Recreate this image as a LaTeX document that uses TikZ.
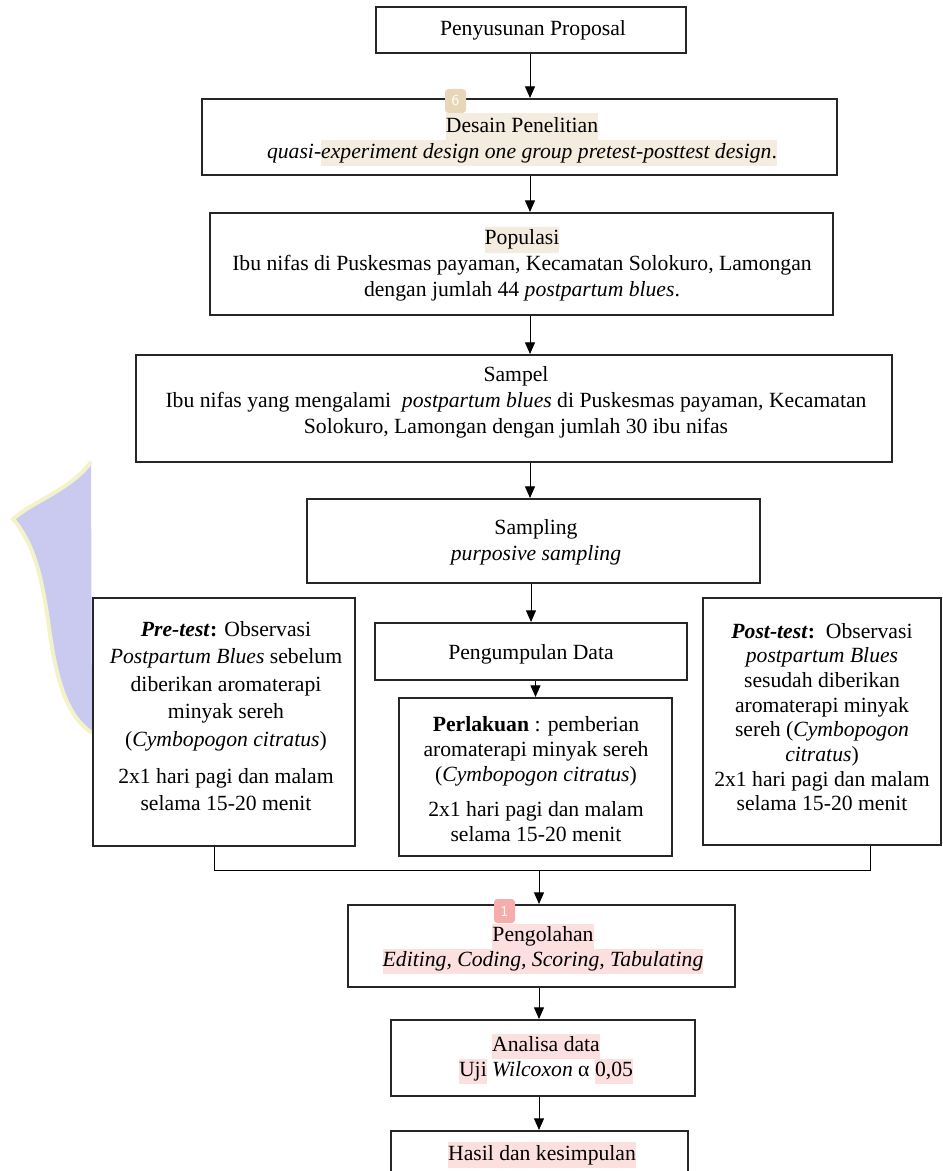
\documentclass[tikz,border=0pt]{standalone}
\usepackage{fontspec}
\setmainfont{Liberation Serif}
\usetikzlibrary{arrows.meta,fit}
\definecolor{hlbeige}{RGB}{244,236,222}
\definecolor{hlpink}{RGB}{252,224,224}
\definecolor{badgebeige}{RGB}{232,214,184}
\definecolor{badgepink}{RGB}{247,172,172}
\definecolor{shieldfill}{RGB}{202,202,240}
\definecolor{shieldedge}{RGB}{244,242,200}
\newcommand{\hlb}[1]{{\setlength{\fboxsep}{0pt}\colorbox{hlbeige}{\strut #1}}}
\newcommand{\hlp}[1]{{\setlength{\fboxsep}{0pt}\colorbox{hlpink}{\strut #1}}}
\tikzset{
  box/.style={draw=black!85, line width=1.2pt, inner sep=0pt},
  txt/.style={align=center, inner sep=0pt, font=\fontsize{13}{15.6}\selectfont},
  arr/.style={-{Triangle[length=7pt,width=6pt]}, line width=0.6pt},
  conn/.style={line width=0.6pt},
  badge/.style={rounded corners=2pt, text=white, minimum width=12.6pt, minimum height=14.4pt, inner sep=0pt, font=\sffamily\fontsize{9}{10}\selectfont}
}
\begin{document}
\begin{tikzpicture}[x=0.6pt,y=-0.6pt]
\useasboundingbox (0,0) rectangle (943,1171);
\clip (0,0) rectangle (943,1171);
% watermark shield
\fill[shieldfill] (91,462) .. controls (70,490) and (35,500) .. (13,519) .. controls (35,545) and (42,580) .. (48,620) .. controls (55,675) and (65,715) .. (92,733) -- cycle;
\draw[shieldedge, line width=2.4pt] (91,462) .. controls (70,490) and (35,500) .. (13,519) .. controls (35,545) and (42,580) .. (48,620) .. controls (55,675) and (65,715) .. (92,733);
\fill[white] (92,455) rectangle (100,740);

% boxes
\node[box, fit={(376,7) (686,53)}] (b1) {};
\node[box, fit={(202,99) (837,175)}] (b2) {};
\node[box, fit={(210,213) (833,315)}] (b3) {};
\node[box, fit={(136,355) (892,462)}] (b4) {};
\node[box, fit={(307,499) (760,583)}] (samp) {};
\node[box, fill=white, fit={(93,598) (355,846)}] (pre) {};
\node[box, fit={(375,623) (687,680)}] (peng) {};
\node[box, fit={(399,698) (672,856)}] (perl) {};
\node[box, fit={(703,598) (941,845)}] (post) {};
\node[box, fit={(348,905) (735,987)}] (olah) {};
\node[box, fit={(391,1020) (695,1096)}] (anal) {};
\node[box, fit={(391,1131) (688,1200)}] (hasil) {};

% texts
\node[txt] (t1) at (533,30) {Penyusunan Proposal};
\node[txt, font=\fontsize{13}{15.9}\selectfont] (t2) at (522,140) {\hlb{Desain Penelitian}\\\textit{quasi-}\hlb{\textit{experiment design one group pretest-posttest design}.}};
\node[txt] (t3) at (522,264) {\hlb{Populasi}\\Ibu nifas di Puskesmas payaman, Kecamatan Solokuro, Lamongan\\dengan jumlah 44 \textit{postpartum blues}.};
\node[txt] (t4) at (516,402) {Sampel\\Ibu nifas yang mengalami\ \ \textit{postpartum blues} di Puskesmas payaman, Kecamatan\\Solokuro, Lamongan dengan jumlah 30 ibu nifas};
\node[txt] (t5) at (536,542) {Sampling\\\textit{purposive sampling}};
\node[txt, font=\fontsize{13}{16.5}\selectfont] (tpre) at (226,716) {\textbf{\textit{Pre-test}:} Observasi\\\textit{Postpartum Blues} sebelum\\diberikan aromaterapi\\minyak sereh\\(\textit{Cymbopogon citratus})\\[5.5pt]2x1 hari pagi dan malam\\selama 15-20 menit};
\node[txt] (tpeng) at (531,654) {Pengumpulan Data};
\node[txt, font=\fontsize{13}{15}\selectfont] (tperl) at (536,779) {\textbf{Perlakuan} : pemberian\\aromaterapi minyak sereh\\(\textit{Cymbopogon citratus})\\[6.5pt]2x1 hari pagi dan malam\\selama 15-20 menit};
\node[txt, font=\fontsize{13}{14.8}\selectfont] (tpost) at (822,717) {\textbf{\textit{Post-test}:}\ \ Observasi\\\textit{postpartum Blues}\\sesudah diberikan\\aromaterapi minyak\\sereh (\textit{Cymbopogon}\\\textit{citratus})\\2x1 hari pagi dan malam\\selama 15-20 menit};
\node[txt, font=\fontsize{13}{15}\selectfont] (tolah) at (543,949) {\hlp{Pengolahan}\\\hlp{\textit{Editing, Coding, Scoring, Tabulating}}};
\node[txt, font=\fontsize{13}{15}\selectfont] (tanal) at (546,1059) {\hlp{Analisa data}\\\hlp{Uji} \textit{Wilcoxon} α \hlp{0,05}};
\node[txt] (thasil) at (542,1155) {\hlp{Hasil dan kesimpulan}};

% connectors
\coordinate (spine) at (530,0);
\coordinate (jl) at (214,870);
\coordinate (jr) at (870,870);
\coordinate (jm) at (539,870);
\draw[arr] (b1.south -| spine) -- (b2.north -| spine);
\draw[arr] (b2.south -| spine) -- (b3.north -| spine);
\draw[arr] (b3.south -| spine) -- (b4.north -| spine);
\draw[arr] (b4.south -| spine) -- (samp.north -| spine);
\draw[arr] (samp.south -| peng.north) -- (peng.north);
\draw[arr] (peng.south -| perl.north) -- (perl.north);
\draw[conn] (pre.south -| jl) -- (jl) -- (jr) -- (post.south -| jr);
\draw[arr] (jm) -- (olah.north -| jm);
\draw[arr] (olah.south -| jm) -- (anal.north -| jm);
\draw[arr] (anal.south -| jm) -- (hasil.north -| jm);

% annotation badges
\node[badge, fill=badgebeige] (bd6) at (455.5,101) {6};
\node[badge, fill=badgepink] (bd1) at (504.5,911) {1};
\end{tikzpicture}
\end{document}
